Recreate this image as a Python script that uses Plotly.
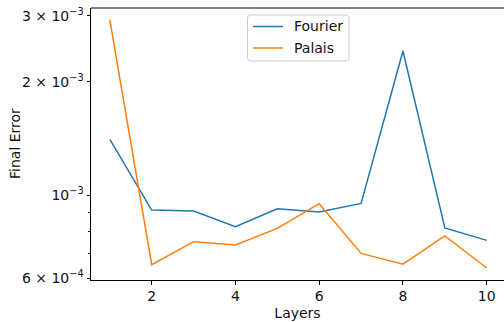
import plotly.graph_objects as go

# Final error per number of layers for the two feature maps
layers = [1, 2, 3, 4, 5, 6, 7, 8, 9, 10]
fourier_error = [1.407e-3, 9.12e-4, 9.06e-4, 8.23e-4, 9.19e-4, 9.01e-4, 9.50e-4, 2.418e-3, 8.17e-4, 7.57e-4]
palais_error = [2.925e-3, 6.52e-4, 7.51e-4, 7.36e-4, 8.15e-4, 9.48e-4, 6.99e-4, 6.54e-4, 7.78e-4, 6.39e-4]

series_names = ["Fourier", "Palais"]
series_colors = ["#1f77b4", "#ff7f0e"]

x_ticks = [2, 4, 6, 8, 10]
y_major = [6e-4, 1e-3, 2e-3, 3e-3]
y_major_text = ["6 × 10<sup>−4</sup>", "10<sup>−3</sup>", "2 × 10<sup>−3</sup>", "3 × 10<sup>−3</sup>"]
y_minor = [7e-4, 8e-4, 9e-4]

FONT = "DejaVu Sans"
W, H = 504, 322
L, R, T, B = 91, 0, 8, 42
PW, PH = W - L - R, H - T - B


def px_x(px):
    return (px - L) / PW


def px_y(py):
    return (H - B - py) / PH


fig = go.Figure()
for name, color, values in zip(series_names, series_colors, [fourier_error, palais_error]):
    fig.add_trace(go.Scatter(x=layers, y=values, mode="lines", name=name,
                             line=dict(color=color, width=1.5), showlegend=False))

fig.update_layout(
    width=W, height=H,
    margin=dict(l=L, r=R, t=T, b=B),
    paper_bgcolor="white", plot_bgcolor="white",
    font=dict(family=FONT, size=14, color="#111111"),
    xaxis=dict(range=[0.55, 10.413], tickvals=x_ticks, ticks="outside", ticklen=3.5,
               tickcolor="black", showgrid=False, zeroline=False, showline=True,
               linecolor="black", linewidth=1, mirror=False,
               title=dict(text="Layers", standoff=4, font=dict(size=14))),
    yaxis=dict(type="log", range=[-3.2264, -2.5019], tickvals=y_major, ticktext=y_major_text,
               ticks="outside", ticklen=3.5, tickcolor="black", showgrid=False, zeroline=False,
               showline=True, linecolor="black", linewidth=1, mirror=False,
               minor=dict(tickvals=y_minor, ticks="outside", ticklen=2, tickcolor="black",
                          showgrid=False)),
)

# y-axis label
fig.add_annotation(xref="paper", yref="paper", x=px_x(15), y=0.5, text="Final Error",
                   textangle=-90, showarrow=False, xanchor="center", yanchor="middle",
                   font=dict(family=FONT, size=14, color="#111111"))

# top border of the axes box
fig.add_shape(type="line", xref="paper", yref="paper", x0=0, x1=1, y0=1, y1=1,
              line=dict(color="#808080", width=2))

# legend box with rounded corners
bx0, bx1, by0, by1, rad = px_x(247.5), px_x(349), px_y(15), px_y(61), 3
rx, ry = rad / PW, rad / PH
path = (f"M {bx0 + rx},{by0} L {bx1 - rx},{by0} Q {bx1},{by0} {bx1},{by0 - ry} "
        f"L {bx1},{by1 + ry} Q {bx1},{by1} {bx1 - rx},{by1} "
        f"L {bx0 + rx},{by1} Q {bx0},{by1} {bx0},{by1 + ry} "
        f"L {bx0},{by0 - ry} Q {bx0},{by0} {bx0 + rx},{by0} Z")
fig.add_shape(type="path", xref="paper", yref="paper", path=path,
              fillcolor="rgba(255,255,255,0.8)", line=dict(color="#cccccc", width=1))

for i, (name, color) in enumerate(zip(series_names, series_colors)):
    row_y = px_y(26.5 + 21.5 * i)
    fig.add_shape(type="line", xref="paper", yref="paper",
                  x0=px_x(253), x1=px_x(283), y0=row_y, y1=row_y,
                  line=dict(color=color, width=1.5))
    fig.add_annotation(xref="paper", yref="paper", x=px_x(292), y=row_y,
                       text=name, showarrow=False, xanchor="left", yanchor="middle",
                       font=dict(family=FONT, size=14, color="#111111"))

fig.write_html("out.html")
